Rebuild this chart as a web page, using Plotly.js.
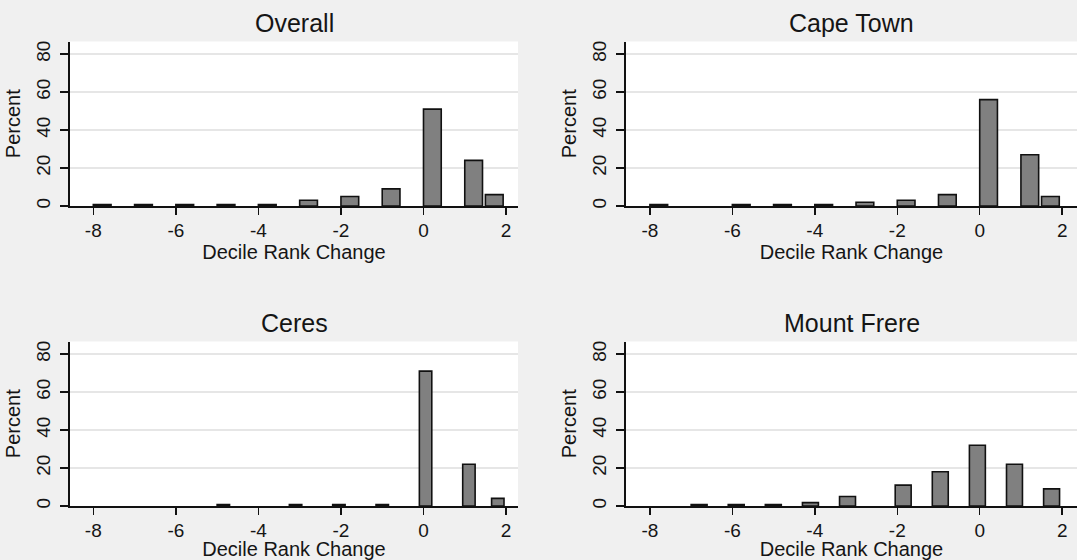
<!DOCTYPE html>
<html><head><meta charset="utf-8">
<script src="https://cdn.plot.ly/plotly-3.0.1.min.js"></script>
<style>html,body{margin:0;padding:0;background:#f0f0f0;} #chart{width:1077px;height:560px;}</style>
</head><body><div id="chart"></div>
<script>
// ---- data ----
const panelTitles = ["Overall", "Cape Town", "Ceres", "Mount Frere"];

const overallValues   = [-8, -7, -6, -5, -4, -3, -2, -1, 0, 1, 2];
const overallPercent  = [0.7, 0.7, 0.7, 0.7, 0.7, 3, 5, 9, 51, 24, 6];

const capeTownValues  = [-8, -6, -5, -4, -3, -2, -1, 0, 1, 2];
const capeTownPercent = [0.7, 0.7, 0.7, 0.7, 2, 3, 6, 56, 27, 5];

const ceresValues     = [-5, -3, -2, -1, 0, 1, 2];
const ceresPercent    = [0.7, 0.7, 0.7, 0.7, 71, 22, 4];

const mountFrereValues  = [-7, -6, -5, -4, -3, -2, -1, 0, 1, 2];
const mountFrerePercent = [0.7, 0.7, 0.7, 1.8, 5, 11, 18, 32, 22, 9];

const xTickValues = [-8, -6, -4, -2, 0, 2];
const xTickLabels = ["-8", "-6", "-4", "-2", "0", "2"];
const yTickValues = [0, 20, 40, 60, 80];
const yTickLabels = ["0", "20", "40", "60", "80"];
const xAxisLabel = "Decile Rank Change";
const yAxisLabel = "Percent";

// ---- histogram binning (20 equal bins from min to max, as the source software does) ----
const NBINS = 20;
function histBars(values) {
  const lo = Math.min(...values), hi = Math.max(...values);
  const w = (hi - lo) / NBINS;
  const barW = w * 0.86;
  const x = values.map(v => {
    let k = Math.floor((v - lo) / w + 1e-9);
    if (k > NBINS - 1) k = NBINS - 1;
    return lo + k * w + barW / 2;
  });
  return {x, width: barW};
}

const panels = [
  {vals: overallValues, pct: overallPercent},
  {vals: capeTownValues, pct: capeTownPercent},
  {vals: ceresValues, pct: ceresPercent},
  {vals: mountFrereValues, pct: mountFrerePercent}
];

const FONT = '"Liberation Sans", Arial, Helvetica, sans-serif';
const TXT = '#151515';

const traces = panels.map((p, i) => {
  const b = histBars(p.vals);
  return {
    type: 'bar',
    x: b.x,
    y: p.pct,
    width: b.width,
    xaxis: i === 0 ? 'x' : 'x' + (i + 1),
    yaxis: i === 0 ? 'y' : 'y' + (i + 1),
    marker: {color: '#808080', line: {color: '#111111', width: 1.6}},
    hoverinfo: 'x+y',
    showlegend: false
  };
});

const xDomains = [[70/1077, 518/1077], [626/1077, 1]];
const yDomains = [[1 - 206/560, 1 - 41.5/560], [1 - 506/560, 1 - 341.5/560]];
const xRanges = [[-8.565, 2.29], [-8.58, 2.36]];

function xAxis(i) {
  const col = i % 2;
  return {
    domain: xDomains[col],
    anchor: i === 0 ? 'y' : 'y' + (i + 1),
    range: xRanges[col],
    tickmode: 'array', tickvals: xTickValues, ticktext: xTickLabels,
    ticks: 'outside', ticklen: 7, tickwidth: 1.5, tickcolor: '#111',
    showline: true, linecolor: '#111', linewidth: 1.6,
    showgrid: false, zeroline: false,
    tickfont: {family: FONT, size: 19, color: TXT},
    title: {text: xAxisLabel, font: {family: FONT, size: 20, color: TXT}, standoff: 1},
    fixedrange: true
  };
}
function yAxis(i) {
  const row = Math.floor(i / 2);
  return {
    domain: yDomains[row],
    anchor: i === 0 ? 'x' : 'x' + (i + 1),
    range: [0, 86.6],
    tickmode: 'array', tickvals: yTickValues, ticktext: yTickLabels,
    tickangle: -90,
    ticks: 'outside', ticklen: 8, tickwidth: 1.5, tickcolor: '#111',
    ticklabelstandoff: 3,
    showline: true, linecolor: '#111', linewidth: 1.6,
    showgrid: true, gridcolor: '#e6e6e6', gridwidth: 1.5,
    zeroline: false,
    tickfont: {family: FONT, size: 19, color: TXT},
    title: {text: yAxisLabel, font: {family: FONT, size: 20, color: TXT}, standoff: 7},
    fixedrange: true
  };
}

const layout = {
  width: 1077, height: 560,
  margin: {l: 0, r: 0, t: 0, b: 0},
  paper_bgcolor: '#f0f0f0',
  plot_bgcolor: '#ffffff',
  bargap: 0,
  font: {family: FONT, color: TXT},
  annotations: panelTitles.map((t, i) => {
    const col = i % 2, row = Math.floor(i / 2);
    return {
      text: t, showarrow: false,
      xref: 'paper', yref: 'paper',
      x: (xDomains[col][0] + xDomains[col][1]) / 2,
      y: row === 0 ? 1 - 23.5/560 : 1 - 323/560,
      xanchor: 'center', yanchor: 'middle',
      font: {family: FONT, size: 25, color: TXT}
    };
  })
};
for (let i = 0; i < 4; i++) {
  layout[i === 0 ? 'xaxis' : 'xaxis' + (i + 1)] = xAxis(i);
  layout[i === 0 ? 'yaxis' : 'yaxis' + (i + 1)] = yAxis(i);
}

Plotly.newPlot('chart', traces, layout, {displayModeBar: false, staticPlot: true});
</script>
</body></html>
